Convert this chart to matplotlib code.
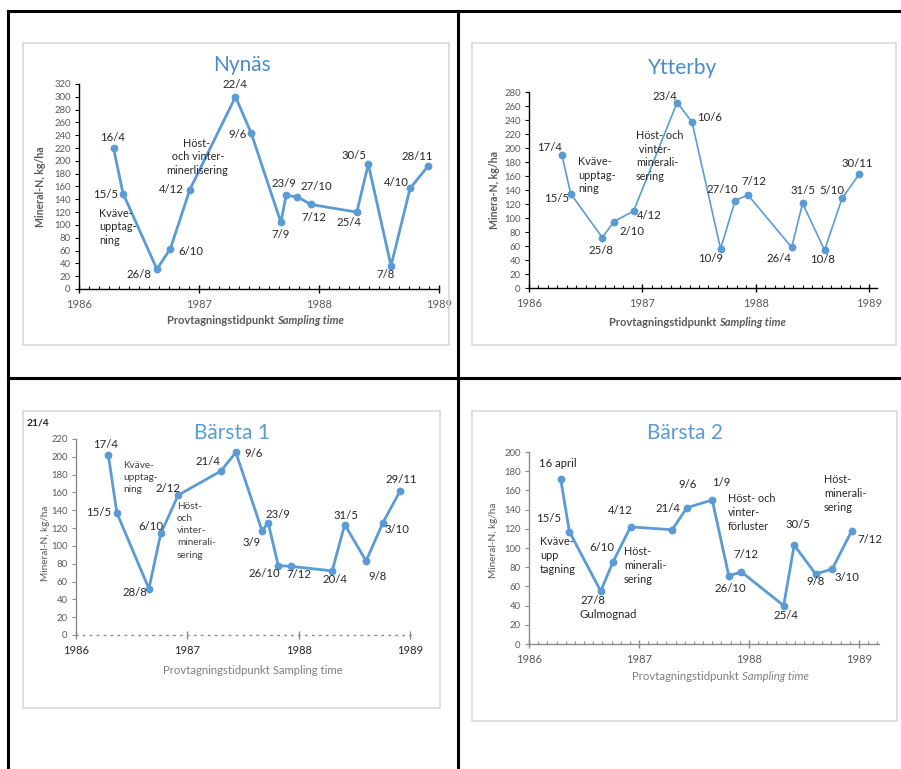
import datetime as dt
import matplotlib.pyplot as plt
from matplotlib.patches import Rectangle
from matplotlib.lines import Line2D
from matplotlib.ticker import MultipleLocator

plt.rcParams['font.family'] = ['Lato', 'DejaVu Sans']

W, H = 901, 769
BLUE = '#5B9BD5'

# Mineral-N (kg/ha) per sampling date, four sites
nynas_dates = ["1986-04-16", "1986-05-15", "1986-08-26", "1986-10-06", "1986-12-04",
               "1987-04-22", "1987-06-09", "1987-09-07", "1987-09-23", "1987-10-27",
               "1987-12-07", "1988-04-25", "1988-05-30", "1988-08-07", "1988-10-04",
               "1988-11-28"]
nynas_n = [220, 149, 31, 63, 155, 300, 243, 104, 146, 144, 132, 120, 195, 36, 157, 192]
nynas_lbl = ["16/4", "15/5", "26/8", "6/10", "4/12", "22/4", "9/6", "7/9", "23/9",
             "27/10", "7/12", "25/4", "30/5", "7/8", "4/10", "28/11"]

ytterby_dates = ["1986-04-17", "1986-05-15", "1986-08-25", "1986-10-02", "1986-12-04",
                 "1987-04-23", "1987-06-10", "1987-09-10", "1987-10-27", "1987-12-07",
                 "1988-04-26", "1988-05-31", "1988-08-10", "1988-10-05", "1988-11-30"]
ytterby_n = [190, 135, 72, 95, 110, 265, 237, 56, 125, 133, 58, 121, 54, 128, 163]
ytterby_lbl = ["17/4", "15/5", "25/8", "2/10", "4/12", "23/4", "10/6", "10/9", "27/10",
               "7/12", "26/4", "31/5", "10/8", "5/10", "30/11"]

barsta1_dates = ["1986-04-17", "1986-05-15", "1986-08-28", "1986-10-06", "1986-12-02",
                 "1987-04-21", "1987-06-09", "1987-09-03", "1987-09-23", "1987-10-26",
                 "1987-12-07", "1988-04-20", "1988-05-31", "1988-08-09", "1988-10-03",
                 "1988-11-29"]
barsta1_n = [202, 137, 52, 114, 157, 184, 205, 117, 126, 78, 77, 72, 124, 83, 126, 162]
barsta1_lbl = ["17/4", "15/5", "28/8", "6/10", "2/12", "21/4", "9/6", "3/9", "23/9",
               "26/10", "7/12", "20/4", "31/5", "9/8", "3/10", "29/11"]

barsta2_dates = ["1986-04-16", "1986-05-15", "1986-08-27", "1986-10-06", "1986-12-04",
                 "1987-04-21", "1987-06-09", "1987-09-01", "1987-10-26", "1987-12-07",
                 "1988-04-25", "1988-05-30", "1988-08-09", "1988-10-03", "1988-12-07"]
barsta2_n = [172, 117, 55, 85, 122, 119, 142, 150, 71, 75, 40, 103, 73, 78, 118]
barsta2_lbl = ["16 april", "15/5", "27/8", "6/10", "4/12", "21/4", "9/6", "1/9", "26/10",
               "7/12", "25/4", "30/5", "9/8", "3/10", "7/12"]

# label offsets from each point, pixels (x right, y up); None = label drawn separately
nynas_off = [(-1, 11), (-17, -1), (-18, -5), (20, -3), (-18, 0), (-1, 12), (-14, -1),
             (0, -12), (-2, 12), (19, 10), (3, -13), (-8, -10), (-14, 9), (-5, -9),
             (-14, 6), (-11, 9)]
ytterby_off = [(-12, 8), (-14, -5), (-1, -13), (18, -10), (16, -4), (-12, 6), (18, 5),
               (-10, -10), (-13, 11), (6, 13), (-13, -11), (0, 13), (-2, -9), (-10, 8),
               (-2, 10)]
barsta1_off = [(-3, 11), (-18, 0), (-14, -4), (-10, 7), (-10, 7), (-13, 10), (18, -1),
               (-10, -12), (10, 8), (-14, -8), (8, -8), (3, -9), (1, 9), (11, -15),
               (14, -7), (1, 11)]
barsta2_off = [(-3, 15), (-21, 13), None, (-11, 15), (-10, 16), (-4, 21), (1, 23),
               (9, 18), (1, -13), (4, 18), (2, -10), (4, 21), (0, -8), (15, -8), (18, -9)]


def decimal_year(s):
    d = dt.date.fromisoformat(s)
    start = dt.date(d.year, 1, 1)
    return d.year + (d - start).days / 365.0


fig = plt.figure(figsize=(W / 100, H / 100), dpi=100)


def fx(x):
    return x / W


def fy(y):
    return 1 - y / H


def ftext(x, y, s, **kw):
    fig.text(fx(x), fy(y), s, **kw)


# table grid
for (x0, y0, x1, y1) in [(8, 11, 8, 769), (8, 11, 901, 11), (458, 11, 458, 769),
                         (8, 378, 901, 378)]:
    fig.add_artist(Line2D([fx(x0), fx(x1)], [fy(y0), fy(y1)], color='black', lw=2.2))

# chart area frames
for (x0, y0, x1, y1) in [(23, 43, 449, 345), (472, 43, 896, 345),
                         (23, 411, 440, 708), (472, 411, 897, 721)]:
    fig.add_artist(Rectangle((fx(x0), fy(y1)), (x1 - x0) / W, (y1 - y0) / H,
                             fill=False, ec='#D9D9D9', lw=1.2))


def panel(dates, vals, labels, offs, px86, px89, pxend, ytop, ybot, ymax, lw, spine_col,
          lbl_size=8.2, tick_col='#595959', xtick_col=None):
    ax = fig.add_axes([fx(px86), fy(ybot), (pxend - px86) / W, (ybot - ytop) / H])
    xs = [decimal_year(d) for d in dates]
    ax.plot(xs, vals, color=BLUE, lw=lw, marker='o', ms=4.6, zorder=3, clip_on=False)
    for x, v, s, off in zip(xs, vals, labels, offs):
        if off is None:
            continue
        ax.annotate(s, (x, v), xytext=off, textcoords='offset pixels',
                    ha='center', va='center', fontsize=lbl_size, color='#262626')
    xr = 1986 + 3 * (pxend - px86) / (px89 - px86)
    ax.set_xlim(1986, xr)
    ax.set_ylim(0, ymax)
    ax.set_xticks([1986, 1987, 1988, 1989])
    ax.xaxis.set_minor_locator(MultipleLocator(1 / 12))
    ax.yaxis.set_major_locator(MultipleLocator(20))
    for side in ['top', 'right']:
        ax.spines[side].set_visible(False)
    for side in ['left', 'bottom']:
        ax.spines[side].set_color(spine_col)
        ax.spines[side].set_linewidth(1.0)
    ax.tick_params(axis='x', which='major', direction='inout', length=6, width=1,
                   color=spine_col, labelsize=8, labelcolor=xtick_col or tick_col, pad=4)
    ax.tick_params(axis='x', which='minor', direction='in', length=2.5, width=0.8,
                   color=spine_col)
    ax.tick_params(axis='y', direction='out', length=3, width=0.8, color=spine_col,
                   labelsize=6.8, labelcolor=tick_col, pad=3)
    ax.patch.set_alpha(0)
    return ax


# Nynäs
panel(nynas_dates, nynas_n, nynas_lbl, nynas_off, 79, 439, 439, 84, 289, 320, 2.0, 'black')
ftext(242, 65, 'Nynäs', ha='center', va='center', fontsize=15, color='#4A8BCB')
ftext(41, 187, 'Mineral-N, kg/ha', rotation=90, ha='center', va='center', fontsize=7.6,
      color='#595959', fontweight='bold')
ftext(277, 321, 'Provtagningstidpunkt ', ha='right', va='center', fontsize=8,
      color='#595959', fontweight='bold')
ftext(277, 321, 'Sampling time', ha='left', va='center', fontsize=8,
      color='#595959', fontweight='bold', style='italic')
ftext(99, 208, 'Kväve-\nupptag-\nning', ha='left', va='top', fontsize=7.8,
      color='#262626', linespacing=1.25)
ftext(197, 138, 'Höst-\n och vinter-\nminerlisering', ha='center', va='top',
      fontsize=7.8, color='#262626', linespacing=1.25)

# Ytterby
panel(ytterby_dates, ytterby_n, ytterby_lbl, ytterby_off, 529, 869, 877, 92, 288, 280,
      1.2, 'black')
ftext(683, 68, 'Ytterby', ha='center', va='center', fontsize=15, color='#4A8BCB')
ftext(494, 190, 'Minera-N, kg/ha', rotation=90, ha='center', va='center', fontsize=7.6,
      color='#595959', fontweight='bold')
ftext(719, 322, 'Provtagningstidpunkt ', ha='right', va='center', fontsize=8,
      color='#595959', fontweight='bold')
ftext(719, 322, 'Sampling time', ha='left', va='center', fontsize=8,
      color='#595959', fontweight='bold', style='italic')
ftext(578, 156, 'Kväve-\nupptag-\nning', ha='left', va='top', fontsize=7.8,
      color='#262626', linespacing=1.3)
ftext(636, 130, 'Höst- och\n vinter-\nminerali-\nsering', ha='left', va='top',
      fontsize=7.8, color='#262626', linespacing=1.3)

# Bärsta 1
ax3 = panel(barsta1_dates, barsta1_n, barsta1_lbl, barsta1_off, 76, 410, 413, 439, 635,
            220, 2.0, '#8C8C8C', xtick_col='#262626')
ax3.spines['bottom'].set_linestyle((0, (1, 4)))
ax3.tick_params(axis='x', which='minor', length=0)
ftext(232, 433, 'Bärsta 1', ha='center', va='center', fontsize=15, color='#5B9BD5')
ftext(38, 423, '21/4', ha='center', va='center', fontsize=7.4, color='#262626',
      fontweight='bold')
ftext(45, 543, 'Mineral-N, kg/ha', rotation=90, ha='center', va='center', fontsize=7.2,
      color='#595959')
ftext(253, 670, 'Provtagningstidpunkt Sampling time', ha='center', va='center',
      fontsize=8.2, color='#7F7F7F')
ftext(123, 461, 'Kväve-\nupptag-\nning', ha='left', va='top', fontsize=7.2,
      color='#404040', linespacing=1.45)
ftext(177, 502, 'Höst-\noch\nvinter-\nminerali-\nsering', ha='left', va='top',
      fontsize=7.2, color='#404040', linespacing=1.45)

# Bärsta 2
panel(barsta2_dates, barsta2_n, barsta2_lbl, barsta2_off, 529, 859, 879, 452, 644, 200,
      2.0, '#8C8C8C')
ftext(685, 433, 'Bärsta 2', ha='center', va='center', fontsize=15, color='#5B9BD5')
ftext(494, 540, 'Mineral-N, kg/ha', rotation=90, ha='center', va='center', fontsize=7.2,
      color='#595959')
ftext(742, 677, 'Provtagningstidpunkt ', ha='right', va='center', fontsize=8.2,
      color='#7F7F7F')
ftext(742, 677, 'Sampling time', ha='left', va='center', fontsize=8.2,
      color='#7F7F7F', style='italic')
ftext(580, 595, '27/8\nGulmognad', ha='left', va='top', fontsize=8.2, color='#262626',
      linespacing=1.3)
ftext(540, 536, 'Kväve-\nupp\ntagning', ha='left', va='top', fontsize=7.8,
      color='#262626', linespacing=1.35)
ftext(624, 546, 'Höst-\nminerali-\nsering', ha='left', va='top', fontsize=7.8,
      color='#262626', linespacing=1.35)
ftext(728, 493, 'Höst- och\nvinter-\nförluster', ha='left', va='top', fontsize=7.8,
      color='#262626', linespacing=1.35)
ftext(824, 474, 'Höst-\nminerali-\nsering', ha='left', va='top', fontsize=7.8,
      color='#262626', linespacing=1.35)

fig.savefig('out.png', dpi=100)
